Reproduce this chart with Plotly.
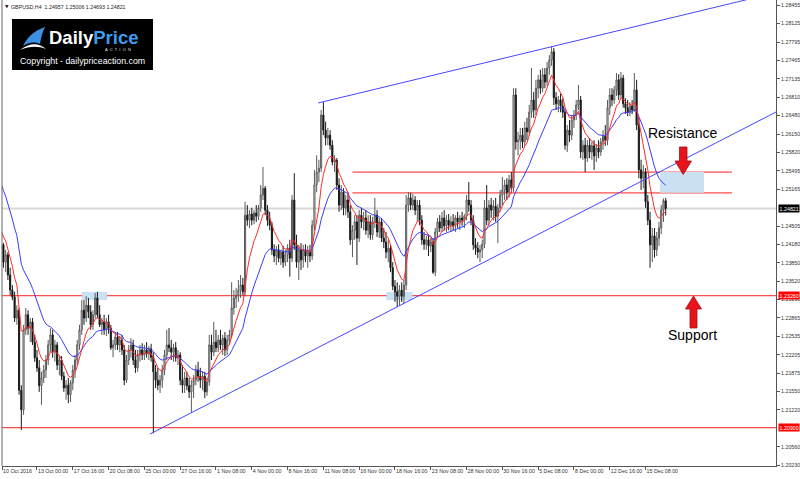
import plotly.graph_objects as go

# ---------------- data (GBPUSD H4, 10 Oct - 16 Dec 2016) ----------------
opens = [
    1.2430,1.2410,1.2408,1.2417,1.2386,1.2399, 1.2363,1.2336,1.2324,1.2286,1.2300,1.2157,
    1.2122,1.2265,1.2292,1.2268,1.2279,1.2243, 1.2215,1.2197,1.2165,1.2179,1.2193,1.2211,
    1.2238,1.2256,1.2225,1.2238,1.2202,1.2211, 1.2182,1.2161,1.2166,1.2149,1.2170,1.2193,
    1.2211,1.2238,1.2265,1.2300,1.2286,1.2309, 1.2297,1.2274,1.2292,1.2322,1.2292,1.2274,
    1.2279,1.2265,1.2279,1.2268,1.2233,1.2238, 1.2252,1.2238,1.2247,1.2229,1.2175,1.2211,
    1.2229,1.2238,1.2211,1.2197,1.2220,1.2229, 1.2220,1.2229,1.2222,1.2231,1.2216,1.2190,
    1.2175,1.2166,1.2175,1.2193,1.2220,1.2238, 1.2233,1.2225,1.2233,1.2215,1.2220,1.2175,
    1.2166,1.2179,1.2165,1.2154,1.2166,1.2175, 1.2193,1.2182,1.2175,1.2182,1.2154,1.2172,
    1.2238,1.2225,1.2243,1.2233,1.2247,1.2238, 1.2250,1.2229,1.2247,1.2256,1.2304,1.2322,
    1.2327,1.2336,1.2345,1.2333,1.2470,1.2461, 1.2472,1.2461,1.2474,1.2468,1.2483,1.2506,
    1.2518,1.2479,1.2461,1.2452,1.2408,1.2397, 1.2408,1.2393,1.2404,1.2386,1.2399,1.2411,
    1.2393,1.2497,1.2417,1.2386,1.2408,1.2390, 1.2408,1.2397,1.2404,1.2397,1.2452,1.2524,
    1.2547,1.2554,1.2649,1.2622,1.2608,1.2613, 1.2595,1.2565,1.2568,1.2524,1.2488,1.2511,
    1.2483,1.2497,1.2476,1.2426,1.2443,1.2458, 1.2429,1.2470,1.2458,1.2465,1.2443,1.2458,
    1.2435,1.2458,1.2470,1.2440,1.2458,1.2429, 1.2422,1.2404,1.2411,1.2376,1.2343,1.2333,
    1.2325,1.2336,1.2325,1.2345,1.2488,1.2501, 1.2488,1.2497,1.2479,1.2488,1.2461,1.2426,
    1.2418,1.2426,1.2415,1.2422,1.2368,1.2440, 1.2458,1.2447,1.2465,1.2451,1.2461,1.2452,
    1.2458,1.2451,1.2465,1.2458,1.2465,1.2461, 1.2468,1.2497,1.2488,1.2461,1.2417,1.2411,
    1.2404,1.2408,1.2418,1.2483,1.2461,1.2488, 1.2479,1.2486,1.2468,1.2483,1.2506,1.2515,
    1.2524,1.2511,1.2533,1.2519,1.2685,1.2601, 1.2604,1.2613,1.2601,1.2626,1.2619,1.2654,
    1.2676,1.2658,1.2697,1.2712,1.2697,1.2721, 1.2708,1.2733,1.2748,1.2762,1.2680,1.2669,
    1.2676,1.2665,1.2654,1.2595,1.2622,1.2613, 1.2640,1.2649,1.2667,1.2676,1.2583,1.2595,
    1.2572,1.2595,1.2583,1.2594,1.2576,1.2590, 1.2583,1.2601,1.2611,1.2604,1.2662,1.2685,
    1.2676,1.2694,1.2712,1.2685,1.2715,1.2669, 1.2662,1.2654,1.2665,1.2658,1.2694,1.2631,
    1.2551,1.2536,1.2547,1.2494,1.2461,1.2417, 1.2433,1.2408,1.2429,1.2447,1.2479,1.24957,
]
highs = [
    1.2445,1.2432,1.2429,1.2420,1.2408,1.2404, 1.2376,1.2345,1.2333,1.2309,1.2304,1.2166,
    1.2274,1.2304,1.2300,1.2286,1.2286,1.2256, 1.2229,1.2211,1.2190,1.2202,1.2220,1.2247,
    1.2268,1.2265,1.2247,1.2243,1.2220,1.2218, 1.2190,1.2175,1.2179,1.2175,1.2202,1.2220,
    1.2247,1.2274,1.2318,1.2318,1.2325,1.2322, 1.2309,1.2300,1.2331,1.2333,1.2309,1.2286,
    1.2292,1.2286,1.2292,1.2274,1.2247,1.2261, 1.2261,1.2254,1.2256,1.2238,1.2220,1.2238,
    1.2250,1.2247,1.2229,1.2229,1.2238,1.2241, 1.2238,1.2243,1.2236,1.2240,1.2225,1.2202,
    1.2197,1.2184,1.2202,1.2229,1.2265,1.2268, 1.2247,1.2240,1.2243,1.2229,1.2225,1.2202,
    1.2190,1.2190,1.2179,1.2175,1.2184,1.2202, 1.2208,1.2197,1.2190,1.2190,1.2179,1.2256,
    1.2256,1.2279,1.2265,1.2256,1.2265,1.2256, 1.2261,1.2256,1.2265,1.2350,1.2336,1.2340,
    1.2354,1.2363,1.2358,1.2494,1.2488,1.2479, 1.2483,1.2479,1.2488,1.2488,1.2524,1.2556,
    1.2522,1.2488,1.2476,1.2458,1.2418,1.2415, 1.2418,1.2408,1.2415,1.2408,1.2418,1.2426,
    1.2506,1.2545,1.2435,1.2417,1.2420,1.2417, 1.2418,1.2415,1.2417,1.2461,1.2551,1.2577,
    1.2569,1.2658,1.2672,1.2637,1.2626,1.2622, 1.2604,1.2577,1.2572,1.2536,1.2524,1.2518,
    1.2506,1.2511,1.2488,1.2452,1.2470,1.2470, 1.2479,1.2483,1.2476,1.2479,1.2470,1.2470,
    1.2467,1.2501,1.2479,1.2465,1.2465,1.2447, 1.2440,1.2426,1.2417,1.2386,1.2354,1.2350,
    1.2345,1.2350,1.2354,1.2506,1.2511,1.2510, 1.2508,1.2504,1.2497,1.2497,1.2470,1.2440,
    1.2433,1.2436,1.2429,1.2429,1.2447,1.2465, 1.2470,1.2476,1.2479,1.2470,1.2472,1.2468,
    1.2472,1.2470,1.2476,1.2470,1.2476,1.2472, 1.2506,1.2529,1.2497,1.2470,1.2429,1.2422,
    1.2417,1.2426,1.2497,1.2524,1.2497,1.2501, 1.2497,1.2501,1.2490,1.2515,1.2538,1.2533,
    1.2536,1.2542,1.2547,1.2697,1.2697,1.2619, 1.2626,1.2626,1.2637,1.2644,1.2667,1.2733,
    1.2690,1.2712,1.2721,1.2730,1.2733,1.2733, 1.2744,1.2756,1.2772,1.2769,1.2690,1.2683,
    1.2687,1.2679,1.2662,1.2631,1.2640,1.2649, 1.2658,1.2676,1.2703,1.2683,1.2604,1.2608,
    1.2604,1.2608,1.2601,1.2604,1.2597,1.2604, 1.2608,1.2622,1.2631,1.2676,1.2697,1.2697,
    1.2701,1.2724,1.2722,1.2726,1.2721,1.2679, 1.2676,1.2672,1.2676,1.2724,1.2712,1.2644,
    1.2569,1.2560,1.2554,1.2506,1.2476,1.2447, 1.2447,1.2440,1.2458,1.2488,1.2500,1.25006,
]
lows = [
    1.2400,1.2395,1.2386,1.2376,1.2368,1.2354, 1.2327,1.2318,1.2279,1.2274,1.2149,1.2086,
    1.2113,1.2256,1.2256,1.2243,1.2238,1.2208, 1.2190,1.2154,1.2131,1.2170,1.2179,1.2202,
    1.2225,1.2215,1.2208,1.2193,1.2184,1.2175, 1.2154,1.2140,1.2134,1.2136,1.2157,1.2179,
    1.2202,1.2229,1.2256,1.2274,1.2279,1.2286, 1.2265,1.2265,1.2286,1.2286,1.2270,1.2256,
    1.2256,1.2254,1.2258,1.2229,1.2216,1.2229, 1.2229,1.2225,1.2220,1.2166,1.2170,1.2202,
    1.2215,1.2202,1.2188,1.2190,1.2208,1.2211, 1.2211,1.2215,1.2211,1.2208,1.2080,1.2161,
    1.2157,1.2152,1.2161,1.2184,1.2211,1.2225, 1.2211,1.2208,1.2208,1.2202,1.2166,1.2152,
    1.2152,1.2157,1.2143,1.2118,1.2143,1.2166, 1.2172,1.2161,1.2157,1.2143,1.2147,1.2165,
    1.2211,1.2218,1.2225,1.2225,1.2229,1.2220, 1.2218,1.2220,1.2238,1.2250,1.2292,1.2304,
    1.2315,1.2322,1.2327,1.2325,1.2451,1.2447, 1.2452,1.2454,1.2458,1.2461,1.2476,1.2497,
    1.2470,1.2451,1.2443,1.2399,1.2386,1.2381, 1.2386,1.2381,1.2376,1.2379,1.2386,1.2360,
    1.2386,1.2408,1.2376,1.2354,1.2372,1.2376, 1.2386,1.2376,1.2386,1.2390,1.2443,1.2511,
    1.2529,1.2547,1.2613,1.2595,1.2595,1.2587, 1.2559,1.2547,1.2515,1.2476,1.2479,1.2470,
    1.2470,1.2465,1.2417,1.2395,1.2426,1.2381, 1.2422,1.2447,1.2443,1.2435,1.2429,1.2426,
    1.2426,1.2447,1.2431,1.2429,1.2422,1.2411, 1.2393,1.2386,1.2368,1.2336,1.2315,1.2306,
    1.2309,1.2315,1.2311,1.2336,1.2476,1.2479, 1.2479,1.2470,1.2458,1.2452,1.2417,1.2408,
    1.2408,1.2397,1.2404,1.2365,1.2361,1.2429, 1.2440,1.2440,1.2443,1.2440,1.2443,1.2440,
    1.2443,1.2440,1.2447,1.2443,1.2451,1.2447, 1.2461,1.2476,1.2452,1.2408,1.2399,1.2393,
    1.2386,1.2393,1.2411,1.2452,1.2452,1.2465, 1.2461,1.2458,1.2420,1.2476,1.2488,1.2497,
    1.2497,1.2501,1.2515,1.2511,1.2587,1.2577, 1.2587,1.2590,1.2594,1.2604,1.2612,1.2644,
    1.2644,1.2649,1.2679,1.2687,1.2690,1.2697, 1.2701,1.2721,1.2737,1.2667,1.2658,1.2654,
    1.2654,1.2644,1.2587,1.2583,1.2601,1.2604, 1.2626,1.2640,1.2658,1.2572,1.2569,1.2547,
    1.2565,1.2572,1.2569,1.2551,1.2565,1.2572, 1.2576,1.2587,1.2594,1.2595,1.2649,1.2665,
    1.2669,1.2683,1.2676,1.2679,1.2662,1.2651, 1.2647,1.2647,1.2651,1.2655,1.2622,1.2536,
    1.2515,1.2518,1.2483,1.2452,1.2376,1.2386, 1.2394,1.2397,1.2415,1.2436,1.2458,1.24693,
]
closes = [
    1.2410,1.2408,1.2417,1.2386,1.2399,1.2363, 1.2336,1.2324,1.2286,1.2300,1.2157,1.2122,
    1.2265,1.2292,1.2268,1.2279,1.2243,1.2215, 1.2197,1.2165,1.2179,1.2193,1.2211,1.2238,
    1.2256,1.2225,1.2238,1.2202,1.2211,1.2182, 1.2161,1.2166,1.2149,1.2170,1.2193,1.2211,
    1.2238,1.2265,1.2300,1.2286,1.2309,1.2297, 1.2274,1.2292,1.2322,1.2292,1.2274,1.2279,
    1.2265,1.2279,1.2268,1.2233,1.2238,1.2252, 1.2238,1.2247,1.2229,1.2175,1.2211,1.2229,
    1.2238,1.2211,1.2197,1.2220,1.2229,1.2220, 1.2229,1.2222,1.2231,1.2216,1.2190,1.2175,
    1.2166,1.2175,1.2193,1.2220,1.2238,1.2233, 1.2225,1.2233,1.2215,1.2220,1.2175,1.2166,
    1.2179,1.2165,1.2154,1.2166,1.2175,1.2193, 1.2182,1.2175,1.2182,1.2154,1.2172,1.2238,
    1.2225,1.2243,1.2233,1.2247,1.2238,1.2250, 1.2229,1.2247,1.2256,1.2304,1.2322,1.2327,
    1.2336,1.2345,1.2333,1.2470,1.2461,1.2472, 1.2461,1.2474,1.2468,1.2483,1.2506,1.2518,
    1.2479,1.2461,1.2452,1.2408,1.2397,1.2408, 1.2393,1.2404,1.2386,1.2399,1.2411,1.2393,
    1.2497,1.2417,1.2386,1.2408,1.2390,1.2408, 1.2397,1.2404,1.2397,1.2452,1.2524,1.2547,
    1.2554,1.2649,1.2622,1.2608,1.2613,1.2595, 1.2565,1.2568,1.2524,1.2488,1.2511,1.2483,
    1.2497,1.2476,1.2426,1.2443,1.2458,1.2429, 1.2470,1.2458,1.2465,1.2443,1.2458,1.2435,
    1.2458,1.2470,1.2440,1.2458,1.2429,1.2422, 1.2404,1.2411,1.2376,1.2343,1.2333,1.2325,
    1.2336,1.2325,1.2345,1.2488,1.2501,1.2488, 1.2497,1.2479,1.2488,1.2461,1.2426,1.2418,
    1.2426,1.2415,1.2422,1.2368,1.2440,1.2458, 1.2447,1.2465,1.2451,1.2461,1.2452,1.2458,
    1.2451,1.2465,1.2458,1.2465,1.2461,1.2468, 1.2497,1.2488,1.2461,1.2417,1.2411,1.2404,
    1.2408,1.2418,1.2483,1.2461,1.2488,1.2479, 1.2486,1.2468,1.2483,1.2506,1.2515,1.2524,
    1.2511,1.2533,1.2519,1.2685,1.2601,1.2604, 1.2613,1.2601,1.2626,1.2619,1.2654,1.2676,
    1.2658,1.2697,1.2712,1.2697,1.2721,1.2708, 1.2733,1.2748,1.2762,1.2680,1.2669,1.2676,
    1.2665,1.2654,1.2595,1.2622,1.2613,1.2640, 1.2649,1.2667,1.2676,1.2583,1.2595,1.2572,
    1.2595,1.2583,1.2594,1.2576,1.2590,1.2583, 1.2601,1.2611,1.2604,1.2662,1.2685,1.2676,
    1.2694,1.2712,1.2685,1.2715,1.2669,1.2662, 1.2654,1.2665,1.2658,1.2694,1.2631,1.2551,
    1.2536,1.2547,1.2494,1.2461,1.2417,1.2433, 1.2408,1.2429,1.2447,1.2479,1.2496,1.24821,
]

# time axis labels (bar index of each label)
tick_bars = [2.4, 18, 34, 50, 66, 82, 98, 114, 130, 146, 162, 178, 194, 210, 226, 242, 258, 274, 290]
tick_dates = ["10 Oct 2016", "13 Oct 00:00", "17 Oct 16:00", "20 Oct 08:00", "25 Oct 00:00",
              "27 Oct 16:00", "1 Nov 08:00", "4 Nov 00:00", "8 Nov 16:00", "11 Nov 08:00",
              "16 Nov 00:00", "18 Nov 16:00", "23 Nov 08:00", "28 Nov 00:00", "30 Nov 16:00",
              "5 Dec 08:00", "8 Dec 00:00", "12 Dec 16:00", "15 Dec 08:00"]
price_ticks = [1.28455, 1.28125, 1.27795, 1.27465, 1.27135, 1.26810, 1.26480, 1.26150, 1.25820,
               1.25495, 1.25165, 1.24505, 1.24180, 1.23850, 1.23520, 1.23190, 1.22865,
               1.22535, 1.22205, 1.21875, 1.21550, 1.21220, 1.20560, 1.20230]

# levels / drawings
current_price = 1.24821
support_level = 1.23260
bottom_level = 1.20900
zone_levels = [1.2547, 1.2510]
zone_bars = [159.0, 328.6]
box_bars = [296.4, 316.1]
touch_boxes = [[38.2, 49.2], [174.3, 185.7]]
touch_box_prices = [1.2319, 1.2332]
lower_trend_bars, lower_trend_prices = [68.5, 348.3], [1.20787, 1.26544]
upper_trend_bars, upper_trend_prices = [143.6, 348.3], [1.26705, 1.28679]
ema_seeds = {"fast": 1.2480, "slow": 1.2565}
header_text = "GBPUSD,H4  1.24957 1.25006 1.24693 1.24821"

# ---------------- figure ----------------
W, H = 800, 479
ML, MR, MT, MB = 2, 24, 0, 13
PW, PH = W - ML - MR, H - MT - MB
X_RANGE = [2.36, 348.3]
Y_RANGE = [1.20215, 1.28547]


def pxx(x):
    return (x - ML) / PW


def pxy(y):
    return 1 - (y - MT) / PH


def path(segments, close=True):
    parts = []
    for cmd, pts in segments:
        if cmd == "L":
            for a, b in pts:
                parts.append(f"L{pxx(a):.5f},{pxy(b):.5f}")
        else:
            parts.append(cmd + " ".join(f"{pxx(a):.5f},{pxy(b):.5f}" for a, b in pts))
    return " ".join(parts) + (" Z" if close else "")


def ema(values, seed, period):
    a = 2.0 / (period + 1)
    out, e = [], seed
    for v in values:
        e = e + a * (v - e)
        out.append(e)
    return out


bars = list(range(len(closes)))
fig = go.Figure()

fig.add_trace(go.Candlestick(
    x=bars, open=opens, high=highs, low=lows, close=closes,
    increasing=dict(line=dict(color="#5a5a5a", width=1), fillcolor="#ffffff"),
    decreasing=dict(line=dict(color="#1a1a1a", width=1), fillcolor="#000000"),
    whiskerwidth=0, hoverinfo="skip", showlegend=False))

fig.add_trace(go.Scatter(x=bars, y=ema(closes, ema_seeds["slow"], 21), mode="lines",
                         line=dict(color="#3b3bff", width=1), hoverinfo="skip"))
fig.add_trace(go.Scatter(x=bars, y=ema(closes, ema_seeds["fast"], 8), mode="lines",
                         line=dict(color="#ff2b2b", width=1), hoverinfo="skip"))

shapes = []
shapes.append(dict(type="line", xref="paper", yref="y", x0=0, x1=1, y0=current_price, y1=current_price,
                   line=dict(color="#d8d8d8", width=2), layer="below"))
for lv in (support_level, bottom_level):
    shapes.append(dict(type="line", xref="paper", yref="y", x0=0, x1=1, y0=lv, y1=lv,
                       line=dict(color="#ff4d4d", width=1.2), layer="below"))
for lv in zone_levels:
    shapes.append(dict(type="line", xref="x", yref="y", x0=zone_bars[0], x1=zone_bars[1], y0=lv, y1=lv,
                       line=dict(color="#ff4d4d", width=1.2), layer="below"))
shapes.append(dict(type="rect", xref="x", yref="y", x0=box_bars[0], x1=box_bars[1],
                   y0=zone_levels[1], y1=zone_levels[0], fillcolor="#c9e1f2", line=dict(width=0), layer="below"))
for b0, b1 in touch_boxes:
    shapes.append(dict(type="rect", xref="x", yref="y", x0=b0, x1=b1, y0=touch_box_prices[0],
                       y1=touch_box_prices[1], fillcolor="#c9e1f2", line=dict(color="#b3d3ec", width=0.5),
                       layer="below"))
shapes.append(dict(type="line", xref="x", yref="y", x0=lower_trend_bars[0], x1=lower_trend_bars[1],
                   y0=lower_trend_prices[0], y1=lower_trend_prices[1], line=dict(color="#4747ff", width=1)))
shapes.append(dict(type="line", xref="x", yref="y", x0=upper_trend_bars[0], x1=upper_trend_bars[1],
                   y0=upper_trend_prices[0], y1=upper_trend_prices[1], line=dict(color="#4747ff", width=1)))
shapes.append(dict(type="line", xref="paper", yref="paper", x0=0, x1=0, y0=0, y1=1,
                   line=dict(color="#666666", width=1)))

down_arrow = [("M", [(679.5, 147)]), ("L", [(687, 147), (687, 161), (691.5, 161), (683.2, 174.5),
                                            (675, 161), (679.5, 161)])]
up_arrow = [("M", [(693.5, 296)]), ("L", [(701.5, 309), (697, 309), (697, 328), (690, 328),
                                          (690, 309), (685.5, 309)])]
for arr in (down_arrow, up_arrow):
    shapes.append(dict(type="path", xref="paper", yref="paper", path=path(arr),
                       fillcolor="#e8141c", line=dict(color="#a50d12", width=0.8)))

# logo
shapes.append(dict(type="rect", xref="paper", yref="paper", x0=pxx(12), x1=pxx(153), y0=pxy(70), y1=pxy(19),
                   fillcolor="#000000", line=dict(width=0)))
logo_blue = [("M", [(23, 46)]), ("C", [(27, 38), (33, 31), (45, 27)]), ("C", [(42, 33), (41, 38), (40, 44)]),
             ("C", [(34, 41), (28, 43), (23, 46)])]
logo_white = [("M", [(20, 50)]), ("C", [(30, 42), (39, 43), (46, 49)]), ("C", [(38, 46), (30, 46), (20, 50)])]
shapes.append(dict(type="path", xref="paper", yref="paper", path=path(logo_blue),
                   fillcolor="#3d8fe3", line=dict(width=0)))
shapes.append(dict(type="path", xref="paper", yref="paper", path=path(logo_white),
                   fillcolor="#ffffff", line=dict(width=0)))

annotations = [
    dict(xref="paper", yref="paper", x=pxx(3), y=pxy(6.5), text="▼", showarrow=False, xanchor="left",
         yanchor="middle", font=dict(size=4.5, color="#222", family="DejaVu Sans")),
    dict(xref="paper", yref="paper", x=pxx(9), y=pxy(6.5), text=header_text, showarrow=False, xanchor="left",
         yanchor="middle", font=dict(size=5.3, color="#222", family="Liberation Sans")),
    dict(xref="paper", yref="paper", x=pxx(93), y=pxy(38), text="<b>Daily</b><b><span style='color:#3d9cf0'>Price</span></b>",
         showarrow=False, xanchor="center", yanchor="middle",
         font=dict(size=18.5, color="#ffffff", family="Liberation Sans")),
    dict(xref="paper", yref="paper", x=pxx(118), y=pxy(50), text="A  C  T  I  O  N", showarrow=False,
         xanchor="center", yanchor="middle", font=dict(size=4, color="#e0e0e0", family="Liberation Sans")),
    dict(xref="paper", yref="paper", x=pxx(82), y=pxy(61.5), text="Copyright - dailypriceaction.com",
         showarrow=False, xanchor="center", yanchor="middle",
         font=dict(size=8.8, color="#ffffff", family="Liberation Sans")),
    dict(xref="paper", yref="paper", x=pxx(682), y=pxy(133.5), text="Resistance", showarrow=False,
         xanchor="center", yanchor="middle", font=dict(size=14, color="#000", family="Liberation Sans")),
    dict(xref="paper", yref="paper", x=pxx(692.5), y=pxy(335), text="Support", showarrow=False,
         xanchor="center", yanchor="middle", font=dict(size=14, color="#000", family="Liberation Sans")),
]
for lv, bg in ((current_price, "#000000"), (support_level, "#ff0000"), (bottom_level, "#ff0000")):
    annotations.append(dict(xref="paper", yref="y", x=1, y=lv, xshift=1.5, text=f"{lv:.5f}", showarrow=False,
                            xanchor="left", yanchor="middle", bgcolor=bg, borderpad=0.6,
                            font=dict(size=5.3, color="#ffffff", family="Liberation Sans")))

fig.update_layout(
    width=W, height=H, margin=dict(l=ML, r=MR, t=MT, b=MB, pad=0, autoexpand=False),
    paper_bgcolor="white", plot_bgcolor="white", showlegend=False,
    shapes=shapes, annotations=annotations,
    xaxis=dict(range=X_RANGE, tickvals=tick_bars, ticktext=tick_dates, ticks="outside", ticklen=3,
               tickcolor="#555", tickwidth=1, ticklabelposition="outside right", automargin=False,
               tickangle=0, ticklabeloverflow="allow",
               tickfont=dict(size=5.3, color="#333", family="Liberation Sans"),
               showgrid=False, zeroline=False, showline=True, linecolor="#555", linewidth=1,
               rangeslider=dict(visible=False), fixedrange=True),
    yaxis=dict(range=Y_RANGE, side="right", tickvals=price_ticks, ticktext=[f"{v:.5f}" for v in price_ticks],
               ticks="outside", ticklen=3, tickcolor="#555", tickwidth=1, automargin=False,
               tickfont=dict(size=5.3, color="#333", family="Liberation Sans"),
               showgrid=False, zeroline=False, showline=True, linecolor="#555", linewidth=1, fixedrange=True),
)

fig.write_html("out.html")
